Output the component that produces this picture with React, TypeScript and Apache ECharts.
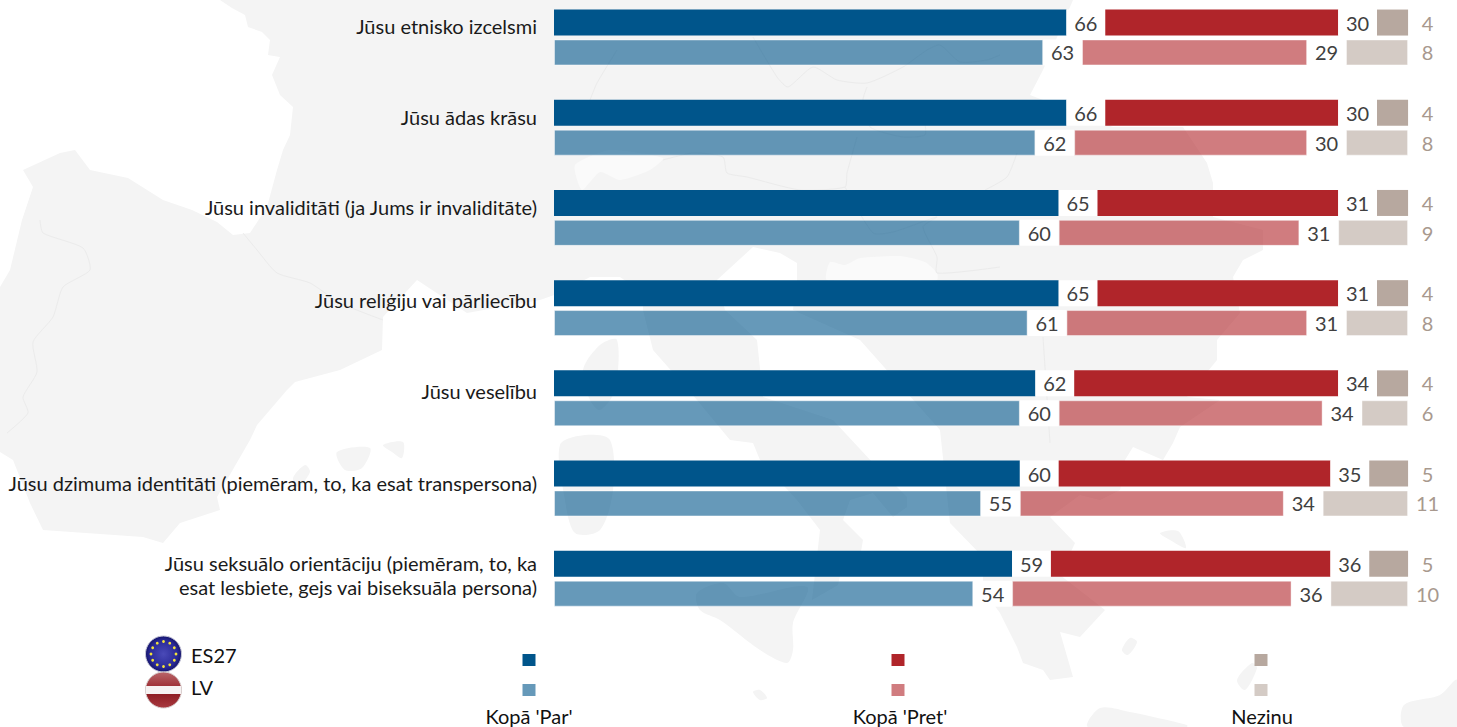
import React, { useEffect, useRef } from "react";
import * as echarts from "echarts";

const categories = [
  "Jūsu etnisko izcelsmi",
  "Jūsu ādas krāsu",
  "Jūsu invaliditāti (ja Jums ir invaliditāte)",
  "Jūsu reliģiju vai pārliecību",
  "Jūsu veselību",
  "Jūsu dzimuma identitāti (piemēram, to, ka esat transpersona)",
  "Jūsu seksuālo orientāciju (piemēram, to, ka\nesat lesbiete, gejs vai biseksuāla persona)",
];
const labelLift = [11.5, 11, 11, 8, 7, 6, 4];

const parES = [66, 66, 65, 65, 62, 60, 59];
const pretES = [30, 30, 31, 31, 34, 35, 36];
const nezES = [4, 4, 4, 4, 4, 5, 5];
const parLV = [63, 62, 60, 61, 60, 55, 54];
const pretLV = [29, 30, 31, 31, 34, 34, 36];
const nezLV = [8, 8, 9, 8, 6, 11, 10];

const GAP = 5;
const gapValues = categories.map(() => GAP);

const groupNames = ["ES27", "LV"];
const legendNames = ["Kopā 'Par'", "Kopā 'Pret'", "Nezinu"];

const FONT = "Lato, Carlito, sans-serif";
const C_PAR = "#00558b";
const C_PRET = "#b0252a";
const C_NEZ = "#b7a89f";
const C_PAR_L = "rgba(0,85,139,0.6)";
const C_PRET_L = "rgba(176,37,42,0.6)";
const C_NEZ_L = "rgba(183,168,159,0.6)";
const MAP = "#f4f4f4";
const MAP_LIGHT = "#fafafa";
const MAP_LINE = "#ebebeb";

const land: number[][] = [
  [220, 0], [1073, 0], [1043, 70], [1030, 95], [1113, 127], [1183, 127], [1207, 163], [1213, 183], [1213, 217],
  [1263, 230], [1263, 250], [1243, 260], [1233, 277], [1240, 313], [1217, 340], [1217, 360], [1187, 397],
  [1220, 400], [1180, 427], [1173, 443], [1163, 460], [1133, 447], [1125, 460], [1120, 490], [1100, 500],
  [1080, 495], [1050, 517], [1075, 543], [1060, 575], [1105, 610], [1080, 637], [1060, 632], [1073, 677],
  [1050, 680], [1043, 670], [1023, 663], [1017, 647], [1000, 613], [983, 590], [983, 557], [950, 523],
  [940, 430], [860, 340], [793, 310], [797, 280], [797, 263], [780, 253], [753, 247], [717, 280], [725, 310],
  [757, 340], [763, 397], [833, 420], [873, 463], [907, 497], [907, 507], [893, 517], [873, 493], [850, 500],
  [843, 520], [863, 540], [860, 557], [843, 563], [838, 585], [812, 600], [820, 530], [797, 500], [760, 460],
  [753, 443], [730, 440], [697, 400], [653, 350], [643, 310], [643, 293], [620, 277], [590, 277], [560, 293],
  [540, 300], [467, 313], [417, 280], [383, 317], [382, 350], [340, 370], [295, 382], [287, 390], [257, 425],
  [250, 440], [217, 497], [220, 510], [180, 523], [163, 543], [143, 537], [43, 530], [30, 503], [13, 460],
  [0, 452], [0, 287], [10, 270], [22, 220], [33, 187], [23, 170], [60, 153], [75, 150], [90, 170], [128, 178],
  [163, 200], [192, 210], [217, 222], [233, 235], [250, 233], [267, 207], [277, 170], [283, 150], [290, 135],
  [293, 107], [280, 95], [272, 75], [280, 57], [268, 55], [270, 40], [262, 32], [248, 27], [245, 15], [232, 8],
];
const islands: number[][][] = [
  [[583, 370], [600, 345], [617, 340], [615, 390], [600, 410], [590, 400]],
  [[560, 445], [585, 435], [610, 440], [613, 490], [600, 530], [575, 533], [565, 500]],
  [[697, 593], [723, 583], [740, 597], [807, 587], [793, 623], [793, 650], [787, 663], [760, 650], [720, 620], [700, 610]],
  [[337, 452], [370, 448], [362, 468], [345, 470]],
  [[383, 445], [403, 442], [402, 458], [392, 452]],
  [[293, 478], [305, 465], [310, 472], [298, 487]],
  [[753, 692], [760, 690], [767, 698], [760, 700]],
  [[1088, 727], [1100, 708], [1130, 712], [1187, 725], [1187, 727]],
  [[1237, 680], [1252, 663], [1257, 668], [1245, 690]],
  [[1160, 533], [1178, 531], [1186, 548], [1170, 540]],
  [[1404, 727], [1404, 705], [1440, 695], [1457, 680], [1457, 727]],
  [[1122, 650], [1130, 638], [1137, 642], [1128, 655]],
];
const lightAreas: number[][][] = [
  [[582, 190], [600, 172], [620, 180], [650, 170], [663, 158], [610, 150], [575, 165]],
  [[827, 280], [830, 262], [845, 265], [860, 258], [900, 256], [925, 262], [937, 273], [937, 280]],
];
const borders: number[][][] = [
  [[243, 233], [257, 250], [277, 273], [310, 283], [340, 303], [383, 320]],
  [[40, 220], [43, 233], [83, 248], [90, 270], [63, 287], [53, 317], [33, 342], [37, 372], [23, 397], [28, 413], [7, 433]],
  [[617, 50], [597, 83], [590, 100]],
  [[753, 37], [777, 77], [788, 87], [813, 67], [837, 80], [867, 83], [903, 67], [927, 50], [940, 45], [960, 62], [987, 60], [1000, 55]],
  [[867, 87], [863, 100], [870, 127], [903, 137], [925, 135], [925, 123]],
  [[857, 137], [847, 173], [845, 187], [800, 190], [747, 177], [727, 173], [723, 157], [693, 153], [663, 160]],
  [[845, 187], [873, 233], [893, 232], [937, 217], [923, 227], [937, 257], [937, 273], [1000, 267]],
  [[1017, 153], [1007, 177], [985, 190]],
  [[1043, 337], [1050, 443]],
];

function mapGraphics() {
  const out: any[] = [];
  out.push({ type: "polygon", silent: true, shape: { points: land }, style: { fill: MAP } });
  islands.forEach((p) => out.push({ type: "polygon", silent: true, shape: { points: p, smooth: 0.3 }, style: { fill: MAP } }));
  lightAreas.forEach((p) => out.push({ type: "polygon", silent: true, shape: { points: p, smooth: 0.2 }, style: { fill: MAP_LIGHT } }));
  borders.forEach((p) => out.push({ type: "polyline", silent: true, shape: { points: p, smooth: 0.2 }, style: { stroke: MAP_LINE, lineWidth: 1, fill: "none" } }));
  return out;
}

function flagGraphics() {
  const out: any[] = [];
  const eu = { x: 163.5, y: 654, r: 18 };
  out.push({
    type: "circle", silent: true, shape: { cx: eu.x, cy: eu.y, r: eu.r },
    style: {
      fill: new echarts.graphic.RadialGradient(0.5, 0.5, 0.5, [
        { offset: 0, color: "#4a4ab8" }, { offset: 0.75, color: "#2a2a98" }, { offset: 1, color: "#14146a" },
      ]),
      stroke: "#c8c8d8", lineWidth: 1,
    },
  });
  for (let i = 0; i < 12; i++) {
    const a = (i * Math.PI) / 6;
    out.push({
      type: "circle", silent: true,
      shape: { cx: eu.x + 12.5 * Math.cos(a), cy: eu.y + 12.5 * Math.sin(a), r: 1.4 },
      style: { fill: "#f2e23a" },
    });
  }
  const lv = { x: 163.5, y: 690, r: 18 };
  out.push({
    type: "circle", silent: true, shape: { cx: lv.x, cy: lv.y, r: lv.r },
    style: {
      fill: new echarts.graphic.LinearGradient(0, 0, 0, 1, [
        { offset: 0, color: "#b9666a" }, { offset: 0.45, color: "#9c2a30" }, { offset: 0.6, color: "#8e1c22" }, { offset: 1, color: "#a83a40" },
      ]),
      stroke: "#d8d0d0", lineWidth: 1,
    },
  });
  out.push({
    type: "rect", silent: true, shape: { x: lv.x - 17.6, y: lv.y - 4, width: 35.2, height: 8 },
    style: { fill: "#f6f2f2" },
  });
  return out;
}

function legendGraphics() {
  const out: any[] = [];
  const xs = [529, 898, 1261];
  const dark = [C_PAR, C_PRET, C_NEZ];
  const light = [C_PAR_L, C_PRET_L, C_NEZ_L];
  const centers = [529, 900, 1262];
  xs.forEach((x, i) => {
    out.push({ type: "rect", silent: true, shape: { x: x - 6.5, y: 654, width: 13, height: 12 }, style: { fill: dark[i] } });
    out.push({ type: "rect", silent: true, shape: { x: x - 6.5, y: 684, width: 13, height: 12 }, style: { fill: light[i] } });
    out.push({
      type: "text", silent: true, x: centers[i], y: 715.5,
      style: { text: legendNames[i], font: `20px ${FONT}`, fill: "#111", align: "center", verticalAlign: "middle" },
    });
  });
  groupNames.forEach((n, i) => {
    out.push({
      type: "text", silent: true, x: 191, y: 655 + i * 32,
      style: { text: n, font: `20px ${FONT}`, fill: "#111", align: "left", verticalAlign: "middle" },
    });
  });
  return out;
}

function stackSeries(id: string, par: number[], pret: number[], nez: number[], c: string[], rim: any) {
  const gapLabel = (vals: number[], color: string) => ({
    show: true, position: "inside" as const, color, fontFamily: FONT, fontSize: 20,
    formatter: (p: any) => String(vals[p.dataIndex]),
  });
  const base = { type: "bar" as const, stack: id, barWidth: 26, barGap: "15%", silent: true };
  return [
    { ...base, name: `${id} par`, data: par, itemStyle: { color: c[0], ...rim } },
    { ...base, name: `${id} gap1`, data: gapValues, itemStyle: { color: "#fff" }, label: gapLabel(par, "#404040") },
    { ...base, name: `${id} pret`, data: pret, itemStyle: { color: c[1], ...rim } },
    { ...base, name: `${id} gap2`, data: gapValues, itemStyle: { color: "#fff" }, label: gapLabel(pret, "#404040") },
    { ...base, name: `${id} nez`, data: nez, itemStyle: { color: c[2], ...rim } },
    { ...base, name: `${id} gap3`, data: gapValues, itemStyle: { color: "transparent" }, label: gapLabel(nez, "#a8998e") },
  ];
}

export default function App() {
  const ref = useRef<HTMLDivElement>(null);
  useEffect(() => {
    const chart = echarts.init(ref.current!, null, { renderer: "svg" });
    const rich: any = {};
    labelLift.forEach((lift, i) => {
      rich[`r${i}`] = {
        fontFamily: FONT, fontSize: 20, color: "#1a1a1a", lineHeight: 24, align: "right",
        padding: [0, 0, lift * 2, 0],
      };
    });
    chart.setOption({
      animation: false,
      backgroundColor: "#fff",
      graphic: [...mapGraphics(), ...flagGraphics(), ...legendGraphics()],
      grid: { left: 554, top: -7.6, width: 892.9, height: 631.4, containLabel: false, outerBoundsMode: "none" },
      xAxis: { type: "value", min: 0, max: 115, show: false },
      yAxis: {
        type: "category", inverse: true, data: categories,
        axisLine: { show: false }, axisTick: { show: false }, splitLine: { show: false },
        axisLabel: {
          interval: 0, margin: 17, align: "right", fontFamily: FONT, fontSize: 20, color: "#1a1a1a", lineHeight: 24,
          rich,
          formatter: (v: string, i: number) =>
            v.split("\n").map((line) => `{r${v.includes("\n") ? 6 : i}|${line}}`).join("\n"),
        },
      },
      series: [
        ...stackSeries("ES27", parES, pretES, nezES, [C_PAR, C_PRET, C_NEZ], {}),
        ...stackSeries("LV", parLV, pretLV, nezLV, [C_PAR_L, C_PRET_L, C_NEZ_L], { borderColor: "rgba(255,255,255,0.45)", borderWidth: 1 }),
      ],
    });
    return () => chart.dispose();
  }, []);
  return <div ref={ref} style={{ position: "fixed", left: 0, top: 0, width: 1457, height: 727 }} />;
}
